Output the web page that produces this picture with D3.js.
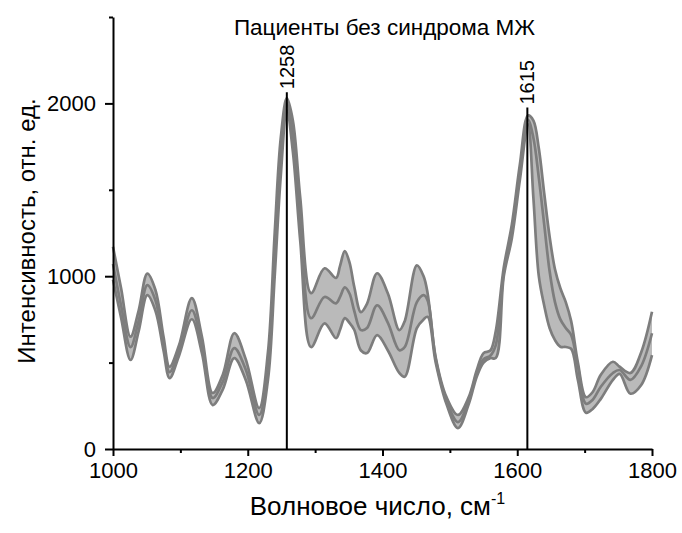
<!DOCTYPE html>
<html>
<head>
<meta charset="utf-8">
<script src="https://cdn.jsdelivr.net/npm/d3@7"></script>
<style>
  body { margin: 0; background: white; }
  svg { display: block; font-family: "Liberation Sans", Arial, sans-serif; }
  .band { fill: #bababa; stroke: none; }
  .curve { fill: none; stroke: #7d7d7d; stroke-width: 2.7; }
  .axis path, .axis line { stroke: black; stroke-width: 2; }
  .axis text { font-size: 22px; fill: black; }
  .peak { stroke: black; stroke-width: 2; }
</style>
</head>
<body>
<div id="chart"></div>
<script>
// wavenumbers, cm-1
var wavenumber = [1000, 1012, 1026, 1038, 1051, 1063, 1075, 1084, 1098, 1117, 1132, 1148, 1163, 1180, 1197, 1217,
  1230, 1240, 1249, 1258, 1267, 1278, 1294, 1314, 1331, 1337, 1344, 1351, 1358, 1368, 1377, 1392, 1408, 1425, 1433,
  1451, 1461, 1467, 1479, 1495, 1512, 1528, 1540, 1550, 1560, 1568, 1580, 1592, 1604, 1616, 1624, 1632, 1640, 1648,
  1656, 1664, 1672, 1680, 1690, 1702, 1712, 1724, 1742, 1752, 1768, 1784, 1800];

// upper edge of the band
var upper = [1170, 930, 650, 800, 1015, 920, 650, 476, 600, 873, 650, 324, 430, 670, 520, 237,
  560, 1250, 1800, 2030, 1900, 1450, 902, 1046, 990, 1060, 1145, 1080, 940, 792, 840, 1017, 900, 688, 740,
  1063, 1000, 900, 530, 300, 197, 300, 457, 555, 570, 680, 1050, 1300, 1650, 1930, 1900, 1740, 1480, 1230,
  1040, 930, 850, 740, 500, 300, 330, 430, 505, 476, 440, 560, 794];

// mean spectrum
var mean = [1070, 830, 590, 740, 948, 860, 610, 445, 570, 803, 600, 295, 390, 584, 460, 197,
  470, 1120, 1700, 2000, 1820, 1330, 757, 880, 843, 880, 935, 900, 800, 688, 700, 832, 730, 572, 590,
  850, 890, 860, 520, 280, 156, 280, 440, 520, 540, 600, 1020, 1260, 1600, 1905, 1800, 1570, 1300, 1030,
  850, 750, 700, 660, 480, 262, 285, 360, 440, 457, 400, 480, 670];

// lower edge of the band
var lower = [980, 760, 515, 680, 890, 800, 570, 410, 540, 751, 555, 254, 345, 526, 400, 150,
  400, 1000, 1580, 1960, 1720, 1200, 590, 727, 641, 690, 757, 730, 690, 570, 555, 659, 570, 440, 418,
  700, 750, 765, 500, 260, 121, 260, 420, 500, 526, 526, 1000, 1220, 1560, 1880, 1450, 1000, 830, 700,
  630, 592, 590, 580, 400, 210, 232, 290, 400, 435, 320, 370, 543];

var peakPos = [1258, 1615];
var peakTop = [2065, 1976];

var xTicks = [1000, 1200, 1400, 1600, 1800];
var xMinor = [1100, 1300, 1500, 1700];
var yTicks = [0, 1000, 2000];
var yMinor = [500, 1500, 2500];

var margin = {top: 17, right: 30, bottom: 84, left: 113};
var width = 682 - margin.left - margin.right;
var height = 533 - margin.top - margin.bottom;

var svg = d3.select("#chart")
  .append("svg")
  .attr("width", 682)
  .attr("height", 533)
  .append("g")
  .attr("transform", "translate(" + margin.left + "," + margin.top + ")");

var xscale = d3.scaleLinear().domain([1000, 1800]).range([0, width]);
var yscale = d3.scaleLinear().domain([0, 2500]).range([height, 0]);

var spec = wavenumber.map(function (w, i) {
  return {w: w, u: upper[i], m: mean[i], l: lower[i]};
});

svg.append("path")
  .datum(spec)
  .attr("class", "band")
  .attr("d", d3.area()
    .curve(d3.curveCatmullRom)
    .x(d => xscale(d.w))
    .y0(d => yscale(d.l))
    .y1(d => yscale(d.u)));

["u", "m", "l"].forEach(function (k) {
  svg.append("path")
    .datum(spec)
    .attr("class", "curve")
    .attr("d", d3.line()
      .curve(d3.curveCatmullRom)
      .x(d => xscale(d.w))
      .y(d => yscale(d[k])));
});

// peak markers
peakPos.forEach(function (p, i) {
  svg.append("line")
    .attr("class", "peak")
    .attr("x1", xscale(p))
    .attr("x2", xscale(p))
    .attr("y1", yscale(0))
    .attr("y2", yscale(peakTop[i]));

  svg.append("text")
    .attr("transform", "translate(" + xscale(p) + "," + (yscale(peakTop[i]) - 3) + ")rotate(-90)")
    .attr("dy", "0.35em")
    .style("font-size", "20px")
    .text(p);
});

// axes
svg.append("g")
  .attr("class", "axis")
  .attr("transform", "translate(0," + height + ")")
  .call(d3.axisBottom(xscale).tickValues(xMinor).tickSize(4).tickFormat(""))
  .select(".domain").remove();

svg.append("g")
  .attr("class", "axis")
  .attr("transform", "translate(0," + height + ")")
  .call(d3.axisBottom(xscale).tickValues(xTicks).tickSize(7).tickSizeOuter(0).tickPadding(6).tickFormat(d3.format("d")));

svg.append("g")
  .attr("class", "axis")
  .call(d3.axisLeft(yscale).tickValues(yMinor).tickSize(4).tickFormat(""))
  .select(".domain").remove();

svg.append("g")
  .attr("class", "axis")
  .call(d3.axisLeft(yscale).tickValues(yTicks).tickSize(8).tickSizeOuter(0).tickPadding(9).tickFormat(d3.format("d")));

// titles
svg.append("text")
  .attr("x", width / 2 + 2)
  .attr("y", 18)
  .attr("text-anchor", "middle")
  .style("font-size", "22.5px")
  .text("Пациенты без синдрома МЖ");

var xt = svg.append("text")
  .attr("x", width / 2 - 5)
  .attr("y", height + 66)
  .attr("text-anchor", "middle")
  .style("font-size", "26px");
xt.append("tspan").text("Волновое число, см");
xt.append("tspan").attr("dy", "-11").style("font-size", "16px").text("-1");

svg.append("text")
  .attr("transform", "translate(" + (-78) + "," + (height / 2 - 2) + ")rotate(-90)")
  .attr("text-anchor", "middle")
  .style("font-size", "24px")
  .text("Интенсивность, отн. ед.");
</script>
</body>
</html>
